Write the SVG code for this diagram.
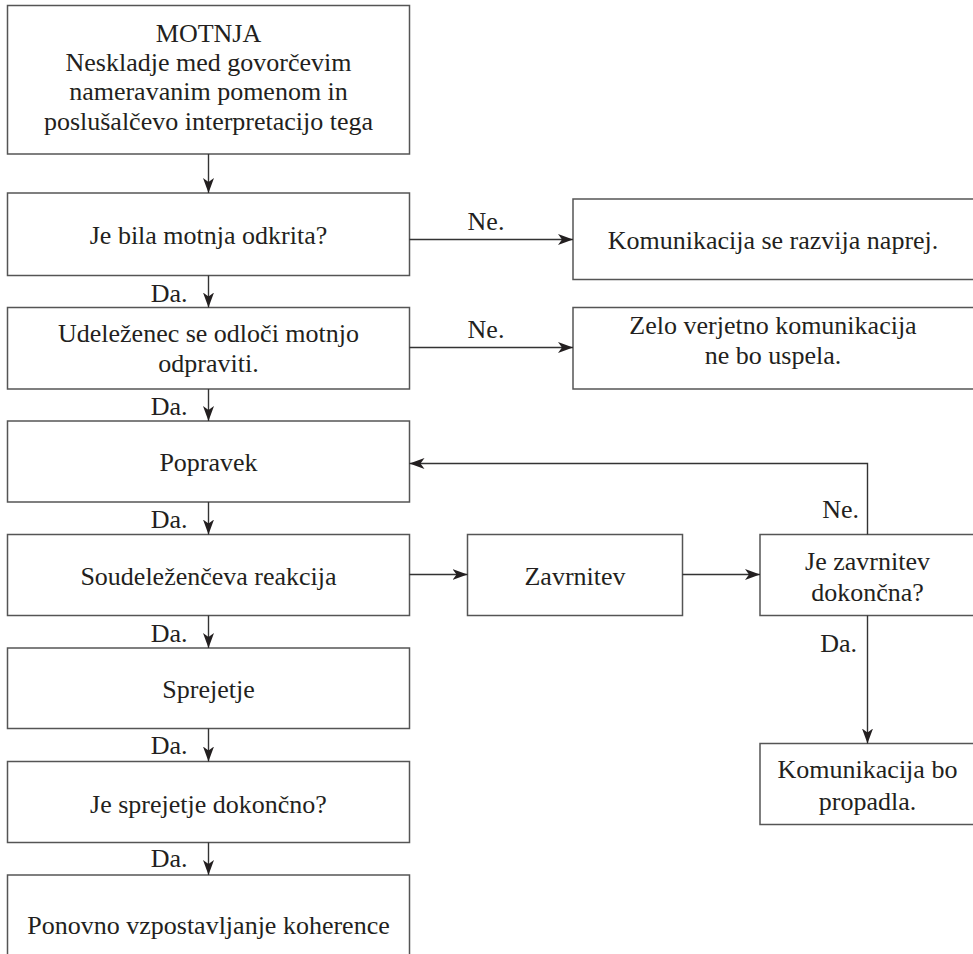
<svg xmlns="http://www.w3.org/2000/svg" width="973" height="954" viewBox="0 0 973 954">
  <style>
    .box { fill: #ffffff; stroke: #555555; stroke-width: 1.5; }
    .txt { font-family: "Liberation Serif", "Times New Roman", serif; font-size: 26px; fill: #231f20; text-anchor: middle; }
    .lbl { font-family: "Liberation Serif", "Times New Roman", serif; font-size: 26px; fill: #231f20; }
    .edge { fill: none; stroke: #333333; stroke-width: 1.4; }
  </style>
  <defs>
    <marker id="arrow" markerUnits="userSpaceOnUse" markerWidth="16" markerHeight="12" refX="15" refY="5.5" orient="auto">
      <path d="M0,0 L15,5.5 L0,11 L4,5.5 Z" fill="#231f20"/>
    </marker>
  </defs>
  <rect width="973" height="954" fill="#ffffff"/>

  <!-- main column -->
  <g id="motnja">
    <rect class="box" x="7.5" y="5.5" width="402" height="148.5"/>
    <text class="txt" x="208.5" y="41.5">MOTNJA</text>
    <text class="txt" x="208.5" y="70.5">Neskladje med govorčevim</text>
    <text class="txt" x="208.5" y="100">nameravanim pomenom in</text>
    <text class="txt" x="208.5" y="129.5">poslušalčevo interpretacijo tega</text>
  </g>
  <g id="odkrita">
    <rect class="box" x="7.5" y="193" width="402" height="82.5"/>
    <text class="txt" x="208.5" y="244">Je bila motnja odkrita?</text>
  </g>
  <g id="odloci">
    <rect class="box" x="7.5" y="307.5" width="402" height="81.5"/>
    <text class="txt" x="208.5" y="341.5">Udeleženec se odloči motnjo</text>
    <text class="txt" x="208.5" y="371.5">odpraviti.</text>
  </g>
  <g id="popravek">
    <rect class="box" x="7.5" y="421" width="402" height="81"/>
    <text class="txt" x="208.5" y="471">Popravek</text>
  </g>
  <g id="reakcija">
    <rect class="box" x="7.5" y="534.5" width="402" height="81"/>
    <text class="txt" x="208.5" y="585">Soudeleženčeva reakcija</text>
  </g>
  <g id="sprejetje">
    <rect class="box" x="7.5" y="648" width="402" height="80.5"/>
    <text class="txt" x="208.5" y="698">Sprejetje</text>
  </g>
  <g id="sprejetje-dokoncno">
    <rect class="box" x="7.5" y="761.5" width="402" height="81"/>
    <text class="txt" x="208.5" y="812.5">Je sprejetje dokončno?</text>
  </g>
  <g id="koherenca">
    <rect class="box" x="7.5" y="875" width="402" height="95"/>
    <text class="txt" x="208.5" y="934">Ponovno vzpostavljanje koherence</text>
  </g>

  <!-- side outcomes -->
  <g id="naprej">
    <rect class="box" x="573" y="199" width="420" height="80.5"/>
    <text class="txt" x="773" y="248.5">Komunikacija se razvija naprej.</text>
  </g>
  <g id="ne-uspela">
    <rect class="box" x="573" y="307.5" width="420" height="81.5"/>
    <text class="txt" x="773" y="334">Zelo verjetno komunikacija</text>
    <text class="txt" x="773" y="364">ne bo uspela.</text>
  </g>
  <g id="zavrnitev">
    <rect class="box" x="467.5" y="534.5" width="215" height="81"/>
    <text class="txt" x="575" y="584.5">Zavrnitev</text>
  </g>
  <g id="zavrnitev-dokoncna">
    <rect class="box" x="760" y="534.5" width="233" height="81"/>
    <text class="txt" x="867.5" y="569.5">Je zavrnitev</text>
    <text class="txt" x="867.5" y="601">dokončna?</text>
  </g>
  <g id="propadla">
    <rect class="box" x="760" y="743.5" width="233" height="81"/>
    <text class="txt" x="867.5" y="777.5">Komunikacija bo</text>
    <text class="txt" x="867.5" y="810">propadla.</text>
  </g>

  <!-- connectors -->
  <g id="connectors">
    <path class="edge" marker-end="url(#arrow)" d="M208.5,154 V193"/>
    <path class="edge" marker-end="url(#arrow)" d="M208.5,275.5 V307.5"/>
    <path class="edge" marker-end="url(#arrow)" d="M208.5,389 V421"/>
    <path class="edge" marker-end="url(#arrow)" d="M208.5,502 V534.5"/>
    <path class="edge" marker-end="url(#arrow)" d="M208.5,615.5 V648"/>
    <path class="edge" marker-end="url(#arrow)" d="M208.5,728.5 V761.5"/>
    <path class="edge" marker-end="url(#arrow)" d="M208.5,842.5 V875"/>
    <path class="edge" marker-end="url(#arrow)" d="M409.5,239.5 H573"/>
    <path class="edge" marker-end="url(#arrow)" d="M409.5,347.5 H573"/>
    <path class="edge" marker-end="url(#arrow)" d="M409.5,574.5 H467.5"/>
    <path class="edge" marker-end="url(#arrow)" d="M682.5,574.5 H760"/>
    <path class="edge" marker-end="url(#arrow)" d="M867.5,534.5 V463.5 H409.5"/>
    <path class="edge" marker-end="url(#arrow)" d="M867.5,615.5 V743.5"/>
  </g>

  <!-- branch labels -->
  <g id="labels">
    <text class="lbl" x="187.5" y="301.5" text-anchor="end">Da.</text>
    <text class="lbl" x="187.5" y="414.5" text-anchor="end">Da.</text>
    <text class="lbl" x="187.5" y="527.5" text-anchor="end">Da.</text>
    <text class="lbl" x="187.5" y="641.5" text-anchor="end">Da.</text>
    <text class="lbl" x="187.5" y="753.5" text-anchor="end">Da.</text>
    <text class="lbl" x="187.5" y="867" text-anchor="end">Da.</text>
    <text class="lbl" x="486" y="229.5" text-anchor="middle">Ne.</text>
    <text class="lbl" x="486" y="337.5" text-anchor="middle">Ne.</text>
    <text class="lbl" x="859" y="517.5" text-anchor="end">Ne.</text>
    <text class="lbl" x="857" y="651.5" text-anchor="end">Da.</text>
  </g>
</svg>
